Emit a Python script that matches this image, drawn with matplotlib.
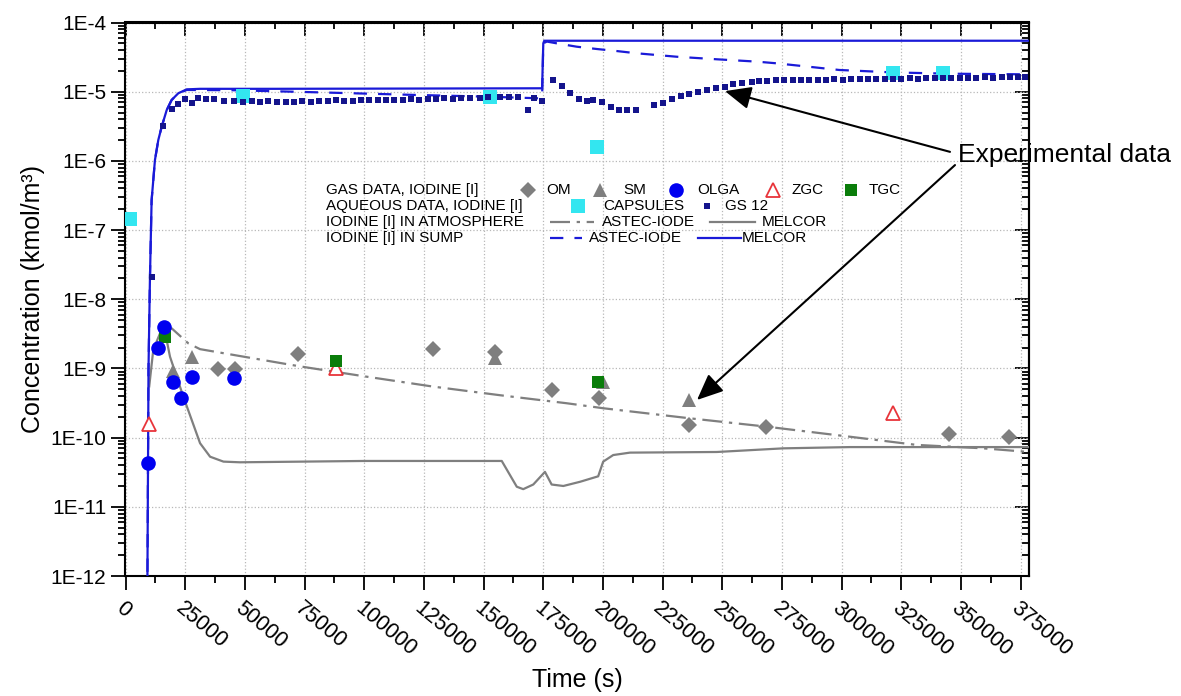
import numpy as np
import matplotlib
matplotlib.use("Agg")
import matplotlib.pyplot as plt
from matplotlib.ticker import FixedLocator, FuncFormatter, LogLocator, NullFormatter, MultipleLocator

plt.rcParams['font.family'] = ['Liberation Sans', 'DejaVu Sans']

# gas data, iodine [I]
om_t = [38700, 45800, 72200, 128800, 154800, 178700, 198400, 236100, 268300, 345000, 370100]
om_c = [9.85e-10, 9.85e-10, 1.62e-9, 1.92e-9, 1.74e-9, 4.9e-10, 3.76e-10, 1.53e-10, 1.43e-10, 1.13e-10, 1.02e-10]
sm_t = [20000, 27700, 154800, 200000, 236100]
sm_c = [9.3e-10, 1.45e-9, 1.42e-9, 6.4e-10, 3.5e-10]
olga_t = [9500, 13700, 16200, 20000, 23200, 27700, 45500]
olga_c = [4.27e-11, 2.0e-9, 4.0e-9, 6.45e-10, 3.8e-10, 7.5e-10, 7.2e-10]
zgc_t = [9900, 88100, 321500]
zgc_c = [1.58e-10, 1.0e-9, 2.3e-10]
tgc_t = [16500, 88100, 197900]
tgc_c = [2.8e-9, 1.29e-9, 6.4e-10]

# aqueous data, iodine [I]
caps_t = [1800, 49000, 152700, 197600, 321500, 342500]
caps_c = [1.44e-7, 8.7e-6, 8.5e-6, 1.6e-6, 1.86e-5, 1.86e-5]
gs12_t = [11100, 15500, 19300, 22100, 24900, 27700, 30500, 33700, 37000, 41200,
          45400, 49300, 52800, 56300, 59800, 63300, 67100, 70600, 74000, 77600,
          81100, 84600, 88100, 91600, 95100, 98600, 102100, 105600, 109100, 112600,
          116100, 119600, 123100, 126600, 130100, 133600, 137100, 140600, 144100, 148500,
          152000, 156900, 160800, 164500, 168700, 171100, 174600,
          179200, 182700, 186200, 190000, 193400, 196000, 199500, 203200, 206700, 210200,
          213700, 221400, 225000, 229100, 232600, 236200, 240000, 243500, 247200, 251100,
          254600, 258400, 262300, 265500, 268800, 272400, 276000, 279500, 283000, 286500,
          290000, 293500, 297000, 300500, 304000, 307500, 311000, 314500, 318000, 321500,
          325000, 328500, 332000, 335500, 339000, 342500, 346000, 349500, 353000, 356500,
          360000, 363500, 367000, 370500, 374000, 377000]
gs12_c = [2.1e-8, 3.2e-6, 5.6e-6, 6.6e-6, 7.9e-6, 6.9e-6, 8.0e-6, 7.8e-6, 7.8e-6, 7.3e-6,
          7.4e-6, 7.2e-6, 7.4e-6, 7.2e-6, 7.3e-6, 7.1e-6, 7.2e-6, 7.2e-6, 7.3e-6, 7.2e-6,
          7.4e-6, 7.3e-6, 7.5e-6, 7.4e-6, 7.4e-6, 7.6e-6, 7.5e-6, 7.6e-6, 7.5e-6, 7.7e-6,
          7.6e-6, 7.8e-6, 7.7e-6, 7.9e-6, 7.8e-6, 8.0e-6, 7.9e-6, 8.1e-6, 8.0e-6, 8.2e-6,
          8.3e-6, 8.4e-6, 8.3e-6, 8.4e-6, 5.4e-6, 8.1e-6, 7.4e-6,
          1.47e-5, 1.22e-5, 9.7e-6, 7.75e-6, 7.34e-6, 7.6e-6, 7.0e-6, 5.96e-6, 5.45e-6, 5.5e-6,
          5.5e-6, 6.43e-6, 6.9e-6, 7.75e-6, 8.75e-6, 9.27e-6, 9.8e-6, 1.06e-5, 1.12e-5, 1.18e-5,
          1.28e-5, 1.35e-5, 1.4e-5, 1.42e-5, 1.42e-5, 1.47e-5, 1.47e-5, 1.49e-5, 1.48e-5, 1.5e-5,
          1.49e-5, 1.5e-5, 1.51e-5, 1.5e-5, 1.52e-5, 1.51e-5, 1.53e-5, 1.52e-5, 1.54e-5, 1.55e-5,
          1.54e-5, 1.56e-5, 1.55e-5, 1.57e-5, 1.56e-5, 1.58e-5, 1.57e-5, 1.59e-5, 1.58e-5, 1.6e-5,
          1.61e-5, 1.6e-5, 1.62e-5, 1.61e-5, 1.63e-5, 1.63e-5]

# iodine [I] in atmosphere
atm_astec_t = [16500, 19300, 26300, 31200, 45100, 73100, 101000, 128900, 156900, 184800,
               200100, 236500, 268600, 303500, 331400, 359400, 378500]
atm_astec_c = [3.5e-9, 3.8e-9, 2.3e-9, 1.9e-9, 1.57e-9, 1.07e-9, 7.6e-10, 5.46e-10, 4.1e-10, 3.14e-10,
               2.66e-10, 1.9e-10, 1.44e-10, 1.03e-10, 7.85e-11, 7.0e-11, 6.2e-11]
atm_melcor_t = [9900, 11600, 14400, 16500, 18600, 21400, 24200, 27700, 31200, 35400,
                41000, 47900, 100000, 157600, 163900, 166600, 170800, 175700, 178500, 183400,
                190400, 198000, 200100, 204300, 211300, 247700, 275600, 303500, 345400, 378500]
atm_melcor_c = [5.5e-10, 1.86e-9, 3.2e-9, 3.4e-9, 1.48e-9, 7.6e-10, 3.9e-10, 1.8e-10, 8.3e-11, 5.3e-11,
                4.5e-11, 4.4e-11, 4.6e-11, 4.6e-11, 1.95e-11, 1.8e-11, 2.1e-11, 3.2e-11, 2.1e-11, 2.0e-11,
                2.3e-11, 2.76e-11, 4.5e-11, 5.6e-11, 6.07e-11, 6.2e-11, 7.0e-11, 7.3e-11, 7.3e-11, 7.3e-11]

# iodine [I] in sump
sump_melcor_t = [9000, 9300, 9600, 10200, 10900, 12300, 13700, 15100, 17200, 19300,
                 22100, 25600, 31200, 60000, 120000, 174500, 175000, 175400, 378500]
sump_melcor_c = [1e-13, 1e-11, 1e-9, 2e-8, 2.7e-7, 1.03e-6, 2.0e-6, 3.1e-6, 5.4e-6, 7.6e-6,
                 9.5e-6, 1.08e-5, 1.1e-5, 1.1e-5, 1.11e-5, 1.12e-5, 5.0e-5, 5.45e-5, 5.45e-5]
sump_astec_t = [9000, 9300, 9600, 10200, 10900, 12300, 13700, 15100, 17200, 19300,
                22100, 25600, 45000, 80000, 120000, 150000, 174500, 175000, 176500, 180600,
                189000, 197400, 205700, 214100, 222500, 230900, 247700, 264400, 272800, 299000,
                321500, 345000, 378500]
sump_astec_c = [1e-13, 1e-11, 1e-9, 2e-8, 2.7e-7, 1.03e-6, 2.0e-6, 3.1e-6, 5.4e-6, 7.6e-6,
                9.4e-6, 1.06e-5, 1.05e-5, 9.8e-6, 9.0e-6, 8.5e-6, 8.0e-6, 5.0e-5, 5.3e-5, 5.0e-5,
                4.47e-5, 4.14e-5, 3.87e-5, 3.59e-5, 3.39e-5, 3.2e-5, 2.94e-5, 2.72e-5, 2.57e-5, 2.06e-5,
                1.9e-5, 1.82e-5, 1.78e-5]

xticks = list(range(0, 375001, 25000))
yticks = [1e-12, 1e-11, 1e-10, 1e-9, 1e-8, 1e-7, 1e-6, 1e-5, 1e-4]

GREY = '#7f7f7f'
BLUE = '#1a1ad8'
NAVY = '#14148c'
CYAN = '#33e6f0'
GREEN = '#0a7d0a'
RED = '#e8343a'

fig = plt.figure(figsize=(11.81, 6.96), dpi=100)
ax = fig.add_axes([125 / 1181, 1 - 576 / 696, 904 / 1181, 553.5 / 696])

ax.plot(atm_melcor_t, atm_melcor_c, color=GREY, lw=1.6, zorder=3)
ax.plot(atm_astec_t, atm_astec_c, color=GREY, lw=1.6, dashes=(9, 3, 1.5, 3), zorder=3)
ax.plot(sump_astec_t, sump_astec_c, color=BLUE, lw=1.6, dashes=(6, 5), zorder=3)
ax.plot(sump_melcor_t, sump_melcor_c, color=BLUE, lw=1.6, zorder=3)

ax.plot(caps_t, caps_c, 's', color=CYAN, ms=10, mew=0, zorder=4)
ax.plot(gs12_t, gs12_c, 's', color=NAVY, ms=3.8, mew=0, zorder=5)
ax.plot(om_t, om_c, 'D', color=GREY, ms=8, mew=0, zorder=4)
ax.plot(sm_t, sm_c, '^', color=GREY, ms=10, mew=0, zorder=4)
ax.plot(zgc_t, zgc_c, '^', mfc='white', mec=RED, ms=10, mew=1.3, zorder=4)
ax.plot(tgc_t, tgc_c, 's', color=GREEN, ms=9, mew=0, zorder=5)
ax.plot(olga_t, olga_c, 'o', color='#0000f0', ms=10.5, mew=0, zorder=5)

ax.set_yscale('log')
ax.set_xlim(-250, 378500)
ax.set_ylim(1e-12, 1e-4)

ax.yaxis.set_major_locator(FixedLocator(yticks))
ax.yaxis.set_major_formatter(FuncFormatter(lambda v, p: '1E%d' % round(np.log10(v))))
ax.yaxis.set_minor_locator(LogLocator(base=10, subs=np.arange(2, 10), numticks=20))
ax.yaxis.set_minor_formatter(NullFormatter())
ax.xaxis.set_major_locator(FixedLocator(xticks))
ax.xaxis.set_minor_locator(MultipleLocator(12500))
ax.set_xticklabels([str(v) for v in xticks], rotation=-40, ha='left', va='top',
                   rotation_mode='anchor')

ax.tick_params(axis='both', which='both', direction='out', width=1.3)
ax.tick_params(axis='both', which='major', length=10, labelsize=15)
ax.tick_params(axis='both', which='minor', length=5)
ax.tick_params(axis='x', which='major', pad=6, labelsize=15.5)
for s in ax.spines.values():
    s.set_linewidth(1.5)

# mirrored ticks, pointing inwards
topx = ax.secondary_xaxis('top')
topx.xaxis.set_major_locator(FixedLocator(xticks))
topx.xaxis.set_minor_locator(MultipleLocator(12500))
topx.tick_params(which='both', direction='in', width=1.3, labeltop=False)
topx.tick_params(which='major', length=10)
topx.tick_params(which='minor', length=5)
topx.spines['top'].set_linewidth(1.5)
righty = ax.secondary_yaxis('right')
righty.yaxis.set_major_locator(FixedLocator(yticks))
righty.yaxis.set_minor_locator(LogLocator(base=10, subs=np.arange(2, 10), numticks=20))
righty.yaxis.set_minor_formatter(NullFormatter())
righty.tick_params(which='both', direction='in', width=1.3, labelright=False)
righty.tick_params(which='major', length=10)
righty.tick_params(which='minor', length=5)
righty.spines['right'].set_linewidth(1.5)

ax.grid(True, which='major', ls=':', color='#b8b8b8', lw=0.9)
ax.set_axisbelow(True)

ax.set_xlabel('Time (s)', fontsize=18, labelpad=5)
ax.set_ylabel('Concentration (kmol/m³)', fontsize=18, labelpad=4)

# legend built by hand (Origin-style rows)
def fx(px):
    return (px - 125) / 904

def fy(py):
    return (576 - py) / 553.5

rows = [190, 206, 222, 238]
lfs = 11
tr = ax.transAxes
ax.text(fx(326), fy(rows[0]), 'GAS DATA, IODINE [I]', fontsize=lfs, va='center', transform=tr)
ax.plot([fx(528)], [fy(rows[0])], 'D', color=GREY, ms=8, mew=0, transform=tr, clip_on=False)
ax.text(fx(546), fy(rows[0]), 'OM', fontsize=lfs, va='center', transform=tr)
ax.plot([fx(600)], [fy(rows[0])], '^', color=GREY, ms=10, mew=0, transform=tr)
ax.text(fx(623), fy(rows[0]), 'SM', fontsize=lfs, va='center', transform=tr)
ax.plot([fx(676)], [fy(rows[0])], 'o', color='#0000f0', ms=10.5, mew=0, transform=tr)
ax.text(fx(697), fy(rows[0]), 'OLGA', fontsize=lfs, va='center', transform=tr)
ax.plot([fx(773)], [fy(rows[0])], '^', mfc='white', mec=RED, ms=10, mew=1.3, transform=tr)
ax.text(fx(792), fy(rows[0]), 'ZGC', fontsize=lfs, va='center', transform=tr)
ax.plot([fx(851)], [fy(rows[0])], 's', color=GREEN, ms=9, mew=0, transform=tr)
ax.text(fx(869), fy(rows[0]), 'TGC', fontsize=lfs, va='center', transform=tr)

ax.text(fx(326), fy(rows[1]), 'AQUEOUS DATA, IODINE [I]', fontsize=lfs, va='center', transform=tr)
ax.plot([fx(578)], [fy(rows[1])], 's', color=CYAN, ms=10, mew=0, transform=tr)
ax.text(fx(603), fy(rows[1]), 'CAPSULES', fontsize=lfs, va='center', transform=tr)
ax.plot([fx(707)], [fy(rows[1])], 's', color=NAVY, ms=3.8, mew=0, transform=tr)
ax.text(fx(725), fy(rows[1]), 'GS 12', fontsize=lfs, va='center', transform=tr)

ax.text(fx(326), fy(rows[2]), 'IODINE [I] IN ATMOSPHERE', fontsize=lfs, va='center', transform=tr)
ax.plot([fx(550), fx(594)], [fy(rows[2])] * 2, color=GREY, lw=1.6, dashes=(9, 3, 1.5, 3), transform=tr)
ax.text(fx(602), fy(rows[2]), 'ASTEC-IODE', fontsize=lfs, va='center', transform=tr)
ax.plot([fx(710), fx(755)], [fy(rows[2])] * 2, color=GREY, lw=1.6, transform=tr)
ax.text(fx(762), fy(rows[2]), 'MELCOR', fontsize=lfs, va='center', transform=tr)

ax.text(fx(326), fy(rows[3]), 'IODINE [I] IN SUMP', fontsize=lfs, va='center', transform=tr)
ax.plot([fx(550), fx(582)], [fy(rows[3])] * 2, color=BLUE, lw=1.6, dashes=(6, 5), transform=tr)
ax.text(fx(589), fy(rows[3]), 'ASTEC-IODE', fontsize=lfs, va='center', transform=tr)
ax.plot([fx(698), fx(741)], [fy(rows[3])] * 2, color=BLUE, lw=1.6, transform=tr)
ax.text(fx(742), fy(rows[3]), 'MELCOR', fontsize=lfs, va='center', transform=tr)

# annotation
ax.text(348700, 1.2e-6, 'Experimental data', fontsize=19, va='center', ha='left', zorder=6)
arrow = dict(arrowstyle='-|>,head_length=1.6,head_width=0.7', color='black', lw=1.5,
             shrinkA=0, shrinkB=0)
ax.annotate('', xy=(251100, 1.02e-5), xytext=(345400, 1.35e-6), arrowprops=arrow, zorder=6)
ax.annotate('', xy=(239400, 3.5e-10), xytext=(347500, 8.7e-7), arrowprops=arrow, zorder=6)

fig.savefig('out.png', dpi=100)
